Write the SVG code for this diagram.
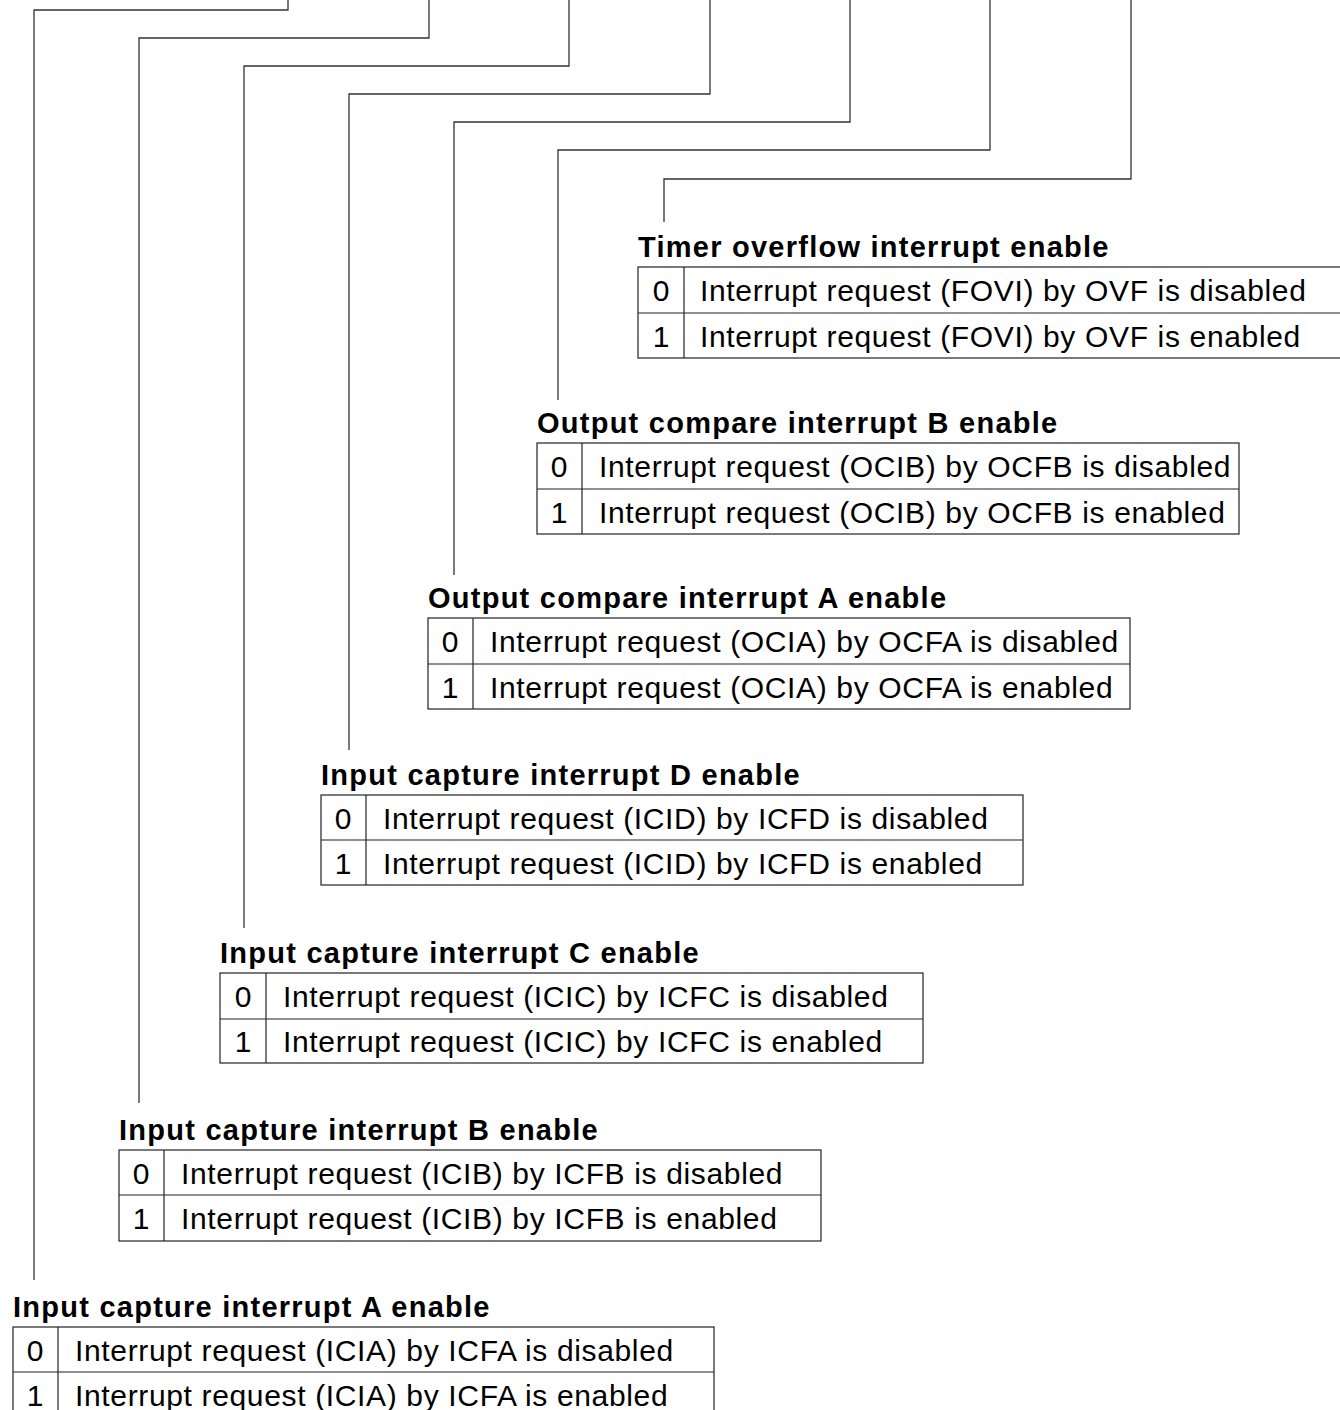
<svg xmlns="http://www.w3.org/2000/svg" width="1340" height="1410" viewBox="0 0 1340 1410">
<style>
.ln{fill:none;stroke:#333;stroke-width:1.3}
.tb{fill:none;stroke:#222;stroke-width:1.2}
.ti{font-family:"Liberation Sans",Arial,sans-serif;font-weight:bold;font-size:29px;letter-spacing:1.25px;fill:#000}
.tx{font-family:"Liberation Sans",Arial,sans-serif;font-size:30px;letter-spacing:0.65px;fill:#000}
.bit{text-anchor:middle;letter-spacing:0}
</style>
<rect width="1340" height="1410" fill="#fff"/>
<g id="connectors">
<polyline class="ln" points="288,0 288,10 34,10 34,1280"/>
<polyline class="ln" points="429,0 429,38 139,38 139,1103"/>
<polyline class="ln" points="569,0 569,66 244,66 244,928"/>
<polyline class="ln" points="710,0 710,94 349,94 349,750"/>
<polyline class="ln" points="850,0 850,122 454,122 454,575"/>
<polyline class="ln" points="990,0 990,150 558,150 558,400"/>
<polyline class="ln" points="1131,0 1131,179 664,179 664,222"/>
</g>
<g id="node-ovie">
<text class="ti" x="638" y="257">Timer overflow interrupt enable</text>
<rect class="tb" x="638" y="267" width="710" height="91"/>
<line class="tb" x1="684" y1="267" x2="684" y2="358"/>
<line class="tb" x1="638" y1="313" x2="1348" y2="313"/>
<text class="tx bit" x="661" y="301">0</text>
<text class="tx" x="700" y="301">Interrupt request (FOVI) by OVF is disabled</text>
<text class="tx bit" x="661" y="347">1</text>
<text class="tx" x="700" y="347">Interrupt request (FOVI) by OVF is enabled</text>
</g>
<g id="node-ociebe">
<text class="ti" x="537" y="433">Output compare interrupt B enable</text>
<rect class="tb" x="537" y="443" width="702" height="91"/>
<line class="tb" x1="582" y1="443" x2="582" y2="534"/>
<line class="tb" x1="537" y1="489" x2="1239" y2="489"/>
<text class="tx bit" x="559" y="477">0</text>
<text class="tx" x="599" y="477">Interrupt request (OCIB) by OCFB is disabled</text>
<text class="tx bit" x="559" y="523">1</text>
<text class="tx" x="599" y="523">Interrupt request (OCIB) by OCFB is enabled</text>
</g>
<g id="node-ociae">
<text class="ti" x="428" y="608">Output compare interrupt A enable</text>
<rect class="tb" x="428" y="618" width="702" height="91"/>
<line class="tb" x1="473" y1="618" x2="473" y2="709"/>
<line class="tb" x1="428" y1="664" x2="1130" y2="664"/>
<text class="tx bit" x="450" y="652">0</text>
<text class="tx" x="490" y="652">Interrupt request (OCIA) by OCFA is disabled</text>
<text class="tx bit" x="450" y="698">1</text>
<text class="tx" x="490" y="698">Interrupt request (OCIA) by OCFA is enabled</text>
</g>
<g id="node-iciede">
<text class="ti" x="321" y="785">Input capture interrupt D enable</text>
<rect class="tb" x="321" y="795" width="702" height="90"/>
<line class="tb" x1="366" y1="795" x2="366" y2="885"/>
<line class="tb" x1="321" y1="840" x2="1023" y2="840"/>
<text class="tx bit" x="343" y="829">0</text>
<text class="tx" x="383" y="829">Interrupt request (ICID) by ICFD is disabled</text>
<text class="tx bit" x="343" y="874">1</text>
<text class="tx" x="383" y="874">Interrupt request (ICID) by ICFD is enabled</text>
</g>
<g id="node-iciece">
<text class="ti" x="220" y="963">Input capture interrupt C enable</text>
<rect class="tb" x="220" y="973" width="703" height="90"/>
<line class="tb" x1="266" y1="973" x2="266" y2="1063"/>
<line class="tb" x1="220" y1="1019" x2="923" y2="1019"/>
<text class="tx bit" x="243" y="1007">0</text>
<text class="tx" x="283" y="1007">Interrupt request (ICIC) by ICFC is disabled</text>
<text class="tx bit" x="243" y="1052">1</text>
<text class="tx" x="283" y="1052">Interrupt request (ICIC) by ICFC is enabled</text>
</g>
<g id="node-iciebe">
<text class="ti" x="119" y="1140">Input capture interrupt B enable</text>
<rect class="tb" x="119" y="1150" width="702" height="91"/>
<line class="tb" x1="164" y1="1150" x2="164" y2="1241"/>
<line class="tb" x1="119" y1="1195" x2="821" y2="1195"/>
<text class="tx bit" x="141" y="1184">0</text>
<text class="tx" x="181" y="1184">Interrupt request (ICIB) by ICFB is disabled</text>
<text class="tx bit" x="141" y="1229">1</text>
<text class="tx" x="181" y="1229">Interrupt request (ICIB) by ICFB is enabled</text>
</g>
<g id="node-iciae">
<text class="ti" x="13" y="1317">Input capture interrupt A enable</text>
<rect class="tb" x="13" y="1327" width="701" height="91"/>
<line class="tb" x1="58" y1="1327" x2="58" y2="1418"/>
<line class="tb" x1="13" y1="1372" x2="714" y2="1372"/>
<text class="tx bit" x="35" y="1361">0</text>
<text class="tx" x="75" y="1361">Interrupt request (ICIA) by ICFA is disabled</text>
<text class="tx bit" x="35" y="1406">1</text>
<text class="tx" x="75" y="1406">Interrupt request (ICIA) by ICFA is enabled</text>
</g>
</svg>
